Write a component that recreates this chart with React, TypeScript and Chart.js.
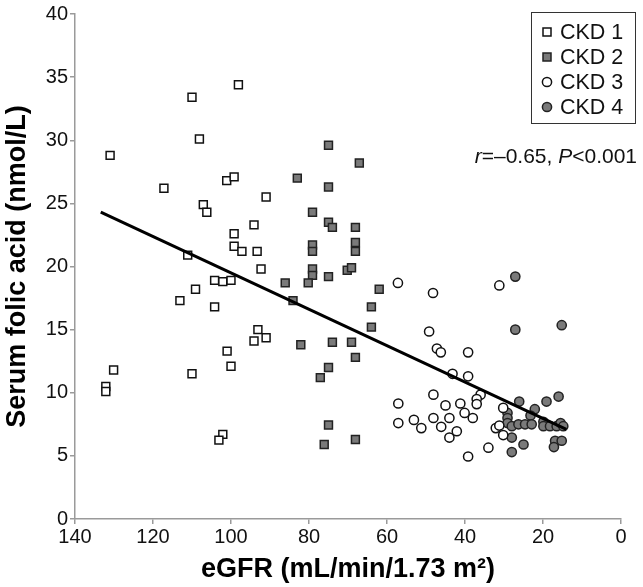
import React, { useEffect, useRef } from "react";
import { Chart, registerables } from "chart.js";

Chart.register(...registerables);

const FONT = "'Liberation Sans', Arial, sans-serif";

const ckd1: [number, number][] = [
  [131.0, 28.8], [110.0, 33.4], [98.1, 34.4], [108.1, 30.1], [117.2, 26.2], [101.1, 26.8],
  [99.2, 27.1], [107.1, 24.9], [106.2, 24.3], [94.1, 23.3], [99.2, 22.6], [99.2, 21.6],
  [97.2, 21.2], [93.3, 21.2], [111.1, 20.9], [92.3, 19.8], [104.2, 18.9], [102.1, 18.8],
  [100.0, 18.9], [109.1, 18.2], [113.1, 17.3], [104.2, 16.8], [93.1, 15.0], [94.1, 14.1],
  [91.0, 14.35], [101.0, 13.3], [100.0, 12.1], [130.1, 11.8], [110.0, 11.5], [132.1, 10.5],
  [132.1, 10.1], [102.1, 6.7], [103.1, 6.25], [91.0, 25.5],
];

const ckd2: [number, number][] = [
  [75.0, 29.6], [67.1, 28.2], [83.0, 27.0], [75.0, 26.3], [79.1, 24.3], [75.0, 23.5],
  [74.0, 23.1], [68.1, 23.1], [68.1, 21.9], [68.1, 21.2], [79.1, 21.7], [79.1, 21.2],
  [79.1, 19.8], [79.1, 19.3], [70.2, 19.7], [69.1, 19.9], [75.0, 19.2], [86.1, 18.7],
  [80.2, 18.7], [62.0, 18.2], [84.1, 17.3], [64.0, 16.8], [64.0, 15.2], [82.1, 13.8],
  [74.0, 14.0], [69.1, 14.0], [68.1, 12.8], [75.0, 12.0], [77.1, 11.2], [75.0, 7.45],
  [68.1, 6.3], [76.1, 5.9],
];

const ckd3: [number, number][] = [
  [57.2, 18.7], [48.2, 17.9], [31.2, 18.5], [49.2, 14.85], [47.2, 13.5], [46.2, 13.2],
  [39.2, 13.2], [43.2, 11.5], [39.2, 11.3], [36.0, 9.85], [37.0, 9.5], [37.0, 9.1],
  [48.1, 9.85], [57.1, 9.15], [57.1, 7.6], [53.1, 7.85], [51.2, 7.2], [48.1, 8.0],
  [46.1, 7.3], [45.0, 9.0], [44.0, 8.0], [44.0, 6.45], [42.1, 6.95], [41.2, 9.15],
  [40.1, 8.4], [38.0, 8.0], [39.2, 4.95], [34.0, 5.65], [30.2, 8.8], [32.1, 7.2],
  [31.2, 7.4], [30.2, 6.65],
];

const ckd4: [number, number][] = [
  [27.1, 19.2], [27.1, 15.0], [15.2, 15.35], [26.1, 9.3], [19.1, 9.3], [16.0, 9.7],
  [22.1, 8.7], [23.2, 8.2], [29.1, 8.4], [29.1, 8.0], [29.1, 7.6], [28.0, 7.35],
  [26.3, 7.5], [24.6, 7.5], [22.9, 7.5], [19.9, 7.7], [19.9, 7.35], [18.2, 7.35],
  [16.5, 7.35], [15.5, 7.6], [14.8, 7.35], [28.0, 6.45], [25.0, 5.9], [28.0, 5.3],
  [16.9, 6.2], [15.2, 6.2], [17.2, 5.7],
];

const fitLine: [number, number][] = [
  [133.4, 24.3],
  [14.0, 7.1],
];

const xTickValues = [140, 120, 100, 80, 60, 40, 20, 0];
const yTickValues = [0, 5, 10, 15, 20, 25, 30, 35, 40];
const seriesLabels = ["CKD 1", "CKD 2", "CKD 3", "CKD 4"];
const xTitle = "eGFR (mL/min/1.73 m²)";
const yTitle = "Serum folic acid (nmol/L)";
const statParts: [string, boolean][] = [
  ["r", true],
  ["=–0.65, ", false],
  ["P", true],
  ["<0.001", false],
];

const styles = [
  { shape: "rect", fill: "#ffffff", stroke: "#111111", radius: 5.6 },
  { shape: "rect", fill: "#7a7a7a", stroke: "#222222", radius: 5.6 },
  { shape: "circle", fill: "#ffffff", stroke: "#111111", radius: 4.6 },
  { shape: "circle", fill: "#7a7a7a", stroke: "#222222", radius: 4.6 },
];

const toPts = (arr: [number, number][]) => arr.map(([x, y]) => ({ x, y }));

const overlayPlugin = {
  id: "overlay",
  afterDraw(chart: any) {
    const ctx = chart.ctx as CanvasRenderingContext2D;
    ctx.save();
    // legend box
    const bx = 531, by = 12, bw = 104, bh = 111;
    ctx.strokeStyle = "#333";
    ctx.lineWidth = 1;
    ctx.strokeRect(bx + 0.5, by + 0.5, bw, bh);
    seriesLabels.forEach((lab, i) => {
      const cy = 32 + i * 25;
      const cx = 547;
      const st = styles[i];
      ctx.fillStyle = st.fill;
      ctx.strokeStyle = st.stroke;
      ctx.lineWidth = 1.5;
      ctx.beginPath();
      if (st.shape === "rect") {
        ctx.rect(cx - 4, cy - 4, 8, 8);
      } else {
        ctx.arc(cx, cy, 4.6, 0, Math.PI * 2);
      }
      ctx.fill();
      ctx.stroke();
      ctx.fillStyle = "#111";
      ctx.font = `21.5px ${FONT}`;
      ctx.textAlign = "left";
      ctx.textBaseline = "middle";
      ctx.fillText(lab, 560, cy + 1);
    });
    // statistics annotation
    ctx.textBaseline = "middle";
    ctx.textAlign = "left";
    const fontFor = (it: boolean) => `${it ? "italic " : ""}21px ${FONT}`;
    let total = 0;
    statParts.forEach(([t, it]) => {
      ctx.font = fontFor(it);
      total += ctx.measureText(t).width;
    });
    let x = 637 - total;
    statParts.forEach(([t, it]) => {
      ctx.font = fontFor(it);
      ctx.fillStyle = "#111";
      ctx.fillText(t, x, 157);
      x += ctx.measureText(t).width;
    });
    ctx.restore();
  },
};

export default function App() {
  const ref = useRef<HTMLCanvasElement>(null);
  useEffect(() => {
    const seriesData = [ckd1, ckd2, ckd3, ckd4];
    const datasets: any[] = [
      {
        label: "fit",
        type: "line",
        data: toPts(fitLine),
        borderColor: "#000",
        borderWidth: 3,
        pointRadius: 0,
        showLine: true,
        fill: false,
        order: 0,
      },
    ];
    seriesData.forEach((d, i) => {
      const st = styles[i];
      datasets.push({
        label: seriesLabels[i],
        data: toPts(d),
        pointStyle: st.shape,
        pointRadius: st.radius,
        pointHoverRadius: st.radius,
        backgroundColor: st.fill,
        borderColor: st.stroke,
        borderWidth: 1.5,
        order: 1 + i,
      });
    });
    const axisGrey = "#9a9a9a";
    const chart = new Chart(ref.current as HTMLCanvasElement, {
      type: "scatter",
      data: { datasets },
      options: {
        animation: false,
        responsive: false,
        layout: { padding: { top: 9, right: 22, left: 0, bottom: 0 } },
        plugins: { legend: { display: false }, tooltip: { enabled: false } },
        scales: {
          x: {
            type: "linear",
            reverse: true,
            min: 0,
            max: 140,
            afterBuildTicks: (s: any) => {
              s.ticks = xTickValues.map((v) => ({ value: v }));
            },
            afterFit: (s: any) => {
              s.height = 68;
            },
            grid: { drawOnChartArea: false, tickLength: 5, color: axisGrey, lineWidth: 1.5 },
            border: { color: axisGrey, width: 1.5 },
            ticks: {
              font: { family: FONT, size: 20 },
              color: "#111",
              padding: 1,
              maxRotation: 0,
              autoSkip: false,
            },
            title: {
              display: true,
              text: xTitle,
              font: { family: FONT, size: 27, weight: "bold", lineHeight: 1.2 },
              color: "#000",
              padding: { top: 0, bottom: 1 },
            },
          },
          y: {
            type: "linear",
            min: 0,
            max: 40,
            afterBuildTicks: (s: any) => {
              s.ticks = yTickValues.map((v) => ({ value: v }));
            },
            afterFit: (s: any) => {
              s.width = 75;
            },
            grid: { drawOnChartArea: false, tickLength: 5, color: axisGrey, lineWidth: 1.5 },
            border: { color: axisGrey, width: 1.5 },
            ticks: {
              font: { family: FONT, size: 20 },
              color: "#111",
              padding: 2,
              autoSkip: false,
            },
            title: {
              display: true,
              text: yTitle,
              font: { family: FONT, size: 27, weight: "bold", lineHeight: 1.2 },
              color: "#000",
              padding: { top: 1, bottom: 0 },
            },
          },
        },
      } as any,
      plugins: [overlayPlugin],
    });
    return () => chart.destroy();
  }, []);
  return (
    <div style={{ position: "fixed", left: 0, top: 0, width: 643, height: 587, background: "#fff" }}>
      <canvas ref={ref} width={643} height={587} style={{ display: "block" }} />
    </div>
  );
}
